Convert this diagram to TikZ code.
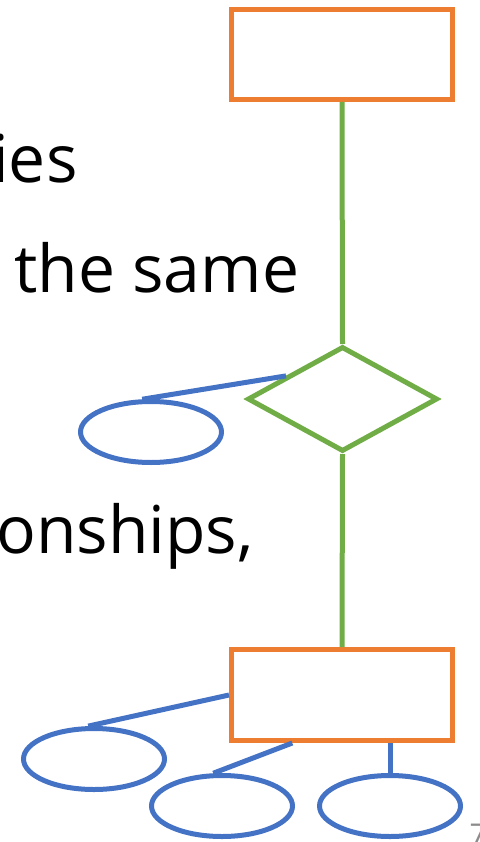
\documentclass[tikz,border=0pt]{standalone}
\usepackage{fontspec}
\setmainfont{Open Sans}
\usetikzlibrary{positioning, calc, shapes.geometric}
\definecolor{entc}{HTML}{ED7D31}
\definecolor{relc}{HTML}{70AD47}
\definecolor{attc}{HTML}{4472C4}
\definecolor{muted}{HTML}{8C8C8C}

\begin{document}
\begin{tikzpicture}[x=1pt, y=-1pt, line width=5pt,
    entbox/.style={draw=entc, minimum width=221pt, inner sep=0pt},
    attr/.style={draw=attc, ellipse, minimum width=141pt, minimum height=61pt, inner sep=0pt},
    txt/.style={inner sep=0pt, font=\fontsize{66}{79}\selectfont}]
      \useasboundingbox (0,0) rectangle (479,842);
      % slide text, cut at the left edge
      \node[txt, anchor=base east] (t1) at (80,183) {ies};
      \node[txt, anchor=base west] (t2) at (12,292) {the same};
      \node[txt, anchor=base east] (t3) at (256,553) {onships,};
      % the diagram
      \node[entbox, minimum height=90pt] (top) at (342,54.5) {};
      \node[draw=relc, diamond, minimum width=190pt, minimum height=105pt, aspect=1.8, inner sep=0pt] (rel) at (342.5,399) {};
      \node[entbox, minimum height=91pt] (ent) at (342,695) {};
      \node[attr] (a0) at (151,432) {};
      \node[attr] (a1) at (94,759) {};
      \node[attr] (a2) at (222,806) {};
      \node[attr] (a3) at (390,806) {};
      \draw[relc] (top.south) -- (rel.north);
      \draw[relc] (rel.south) -- (ent.north);
      \draw[attc] ($(rel.west)!0.42!(rel.north)$) -- (a0.105);
      \draw[attc] (ent.west) -- (a1.100);
      \draw[attc] ($(ent.south west)!0.28!(ent.south east)$) -- (a2.105);
      \draw[attc] (ent.south -| a3.north) -- (a3.north);
      \node[anchor=base west, inner sep=0pt, text=muted, font=\fontsize{30}{36}\selectfont] (pg) at (467,845) {7};
    \end{tikzpicture}
\end{document}
